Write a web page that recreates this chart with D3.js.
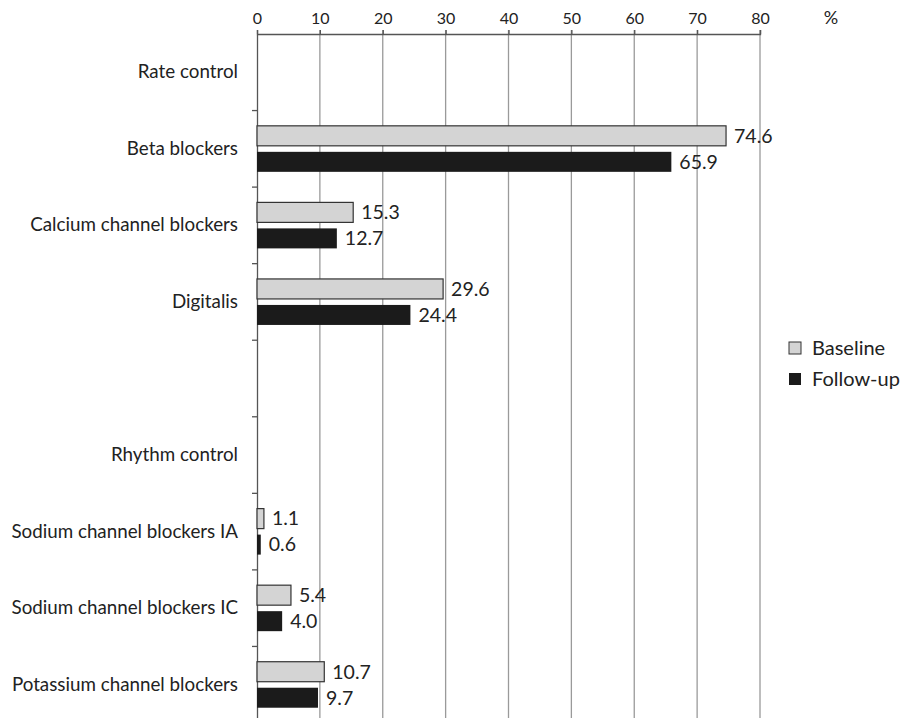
<!DOCTYPE html>
<html><head><meta charset="utf-8">
<script src="https://cdn.jsdelivr.net/npm/d3@7"></script>
<style>body{margin:0;background:#fff}svg{display:block}text{font-family:Lato,"Open Sans",sans-serif;fill:#222}</style>
</head><body><svg id="c" width="906" height="718"></svg>
<script>
const categories = ["Rate control","Beta blockers","Calcium channel blockers","Digitalis","","Rhythm control","Sodium channel blockers IA","Sodium channel blockers IC","Potassium channel blockers"];
const baseline = [null,74.6,15.3,29.6,null,null,1.1,5.4,10.7];
const followup = [null,65.9,12.7,24.4,null,null,0.6,4.0,9.7];
const seriesNames = ["Baseline","Follow-up"];
const xTicks = [0,10,20,30,40,50,60,70,80];

(function(){
const svg = d3.select("#c");
const mLeft = 257, mRight = 760, mTop = 34, mBottom = 723;
const ids = categories.map((c,i)=>i);
const x = d3.scaleLinear().domain([0,80]).range([mLeft,mRight]);
const y = d3.scaleBand().domain(ids).range([mTop,mBottom]);
const colors = ["#d4d4d4","#1b1b1b"];
const ff = "Lato, 'Open Sans', sans-serif";

// gridlines
svg.append("g").selectAll("line").data(xTicks.slice(1)).join("line")
  .attr("x1",d=>x(d)).attr("x2",d=>x(d)).attr("y1",mTop-4).attr("y2",718)
  .attr("stroke","#9a9a9a").attr("stroke-width",1.3);

// top axis
const ax = svg.append("g").attr("transform",`translate(0,${mTop})`)
  .call(d3.axisTop(x).tickValues(xTicks).tickSize(4).tickPadding(6));
ax.select(".domain").attr("stroke","#555").attr("stroke-width",1.3);
ax.selectAll(".tick line").attr("stroke","#555").attr("stroke-width",1.3);
ax.selectAll("text").attr("font-size",16).attr("font-family",ff).attr("fill","#222");
svg.append("text").attr("x",831).attr("y",24).attr("text-anchor","middle").attr("font-size",18).text("%");

// left axis
const ay = svg.append("g").attr("transform",`translate(${mLeft},0)`)
  .call(d3.axisLeft(y).tickFormat(i=>categories[i]).tickSize(0).tickPadding(19));
ay.select(".domain").attr("stroke","#555").attr("stroke-width",1.3);
ay.selectAll("text").attr("font-size",18.8).attr("font-family",ff).attr("fill","#222");
// band boundary ticks
svg.append("g").selectAll("line").data(ids.slice(1)).join("line")
  .attr("x1",mLeft-5).attr("x2",mLeft).attr("y1",d=>y(d)).attr("y2",d=>y(d))
  .attr("stroke","#555").attr("stroke-width",1.3);

const bh = 20, gap = 6;
const series = [baseline, followup];
series.forEach((vals,s)=>{
  const data = ids.filter(i=>vals[i]!=null).map(i=>({i,v:vals[i]}));
  const yc = d=> y(d.i)+y.bandwidth()/2 + (s===0 ? -gap/2-bh : gap/2);
  svg.append("g").selectAll("rect").data(data).join("rect")
    .attr("x",x(0)).attr("y",yc).attr("width",d=>x(d.v)-x(0)).attr("height",bh)
    .attr("fill",colors[s]).attr("stroke",s===0?"#333":"none").attr("stroke-width",1.2);
  svg.append("g").selectAll("text").data(data).join("text")
    .attr("x",d=>x(d.v)+8).attr("y",d=>yc(d)+bh/2).attr("dy","0.35em")
    .attr("font-size",19.5).text(d=>d.v.toFixed(1));
});

// legend
const lg = svg.append("g");
seriesNames.forEach((n,s)=>{
  const yy = 348 + s*31;
  lg.append("rect").attr("x",789).attr("y",yy-6).attr("width",12).attr("height",12)
    .attr("fill",colors[s]).attr("stroke",s===0?"#333":"none").attr("stroke-width",1);
  lg.append("text").attr("x",812).attr("y",yy).attr("dy","0.35em").attr("font-size",20).text(n);
});
})();
</script></body></html>
